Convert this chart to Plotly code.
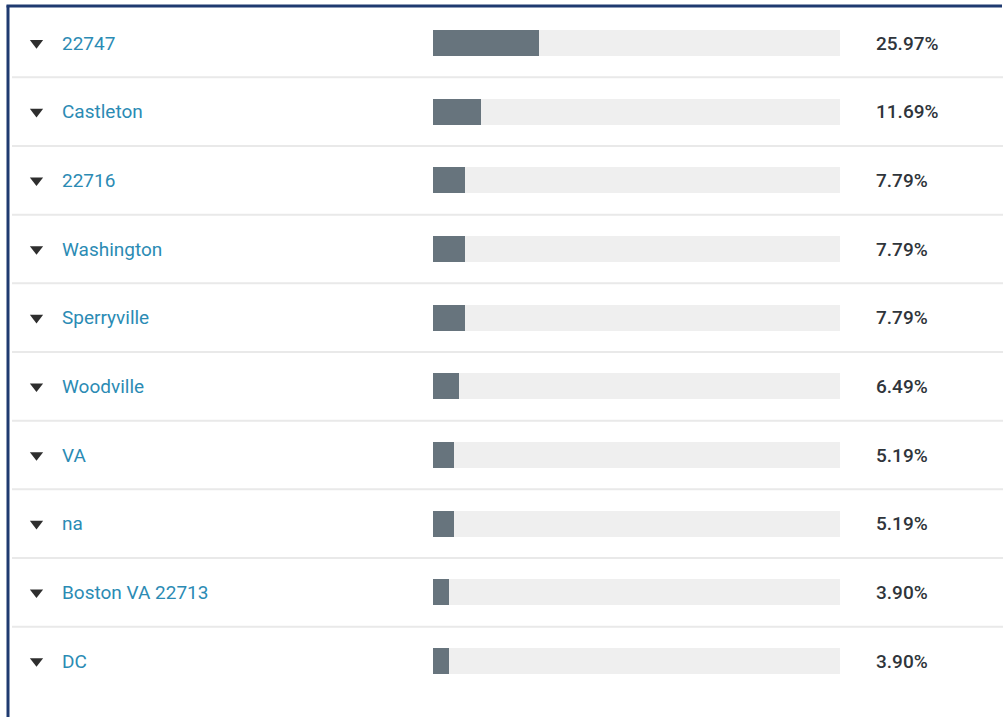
import plotly.graph_objects as go

# Response breakdown: answer text and share of respondents (%)
answers = ["22747", "Castleton", "22716", "Washington", "Sperryville",
           "Woodville", "VA", "na", "Boston VA 22713", "DC"]
shares = [25.97, 11.69, 7.79, 7.79, 7.79, 6.49, 5.19, 5.19, 3.90, 3.90]
full_scale = [100] * len(answers)

W, H = 1003, 717
rows = list(range(len(answers)))

label_color = "#2b8bb4"
value_color = "#2f353b"
fill_color = "#67747d"
track_color = "#efefef"
rule_color = "#e9e9e9"
frame_color = "#1f3a70"

fig = go.Figure()

# background track for each row
fig.add_trace(go.Bar(
    x=full_scale, y=rows, orientation="h", width=0.38,
    marker=dict(color=track_color, line=dict(width=0)),
    hoverinfo="skip", showlegend=False,
))
# filled portion = share
fig.add_trace(go.Bar(
    x=shares, y=rows, orientation="h", width=0.38,
    marker=dict(color=fill_color, line=dict(width=0)),
    hovertemplate="%{x:.2f}%<extra></extra>", showlegend=False,
))
# expand/collapse arrows in front of each answer (own full-width axis)
fig.add_trace(go.Scatter(
    x=[36.5] * len(answers), y=rows, mode="markers",
    xaxis="x2", yaxis="y",
    marker=dict(symbol="triangle-down", size=11.5, color="#2e2e2e",
                line=dict(width=0)),
    hoverinfo="skip", showlegend=False,
))

annotations = []
for i, (a, s) in enumerate(zip(answers, shares)):
    annotations.append(dict(
        x=59.5 / W, xref="paper", y=i, yref="y", text=a,
        xanchor="left", yanchor="middle", showarrow=False,
        font=dict(family="Roboto", size=19, color=label_color),
    ))
    annotations.append(dict(
        x=874 / W, xref="paper", y=i, yref="y", text=f"{s:.2f}%",
        xanchor="left", yanchor="middle", showarrow=False,
        font=dict(family="Roboto", size=19, color=value_color, weight=500),
    ))

shapes = []
# thin rules between rows
for i in rows[:-1]:
    shapes.append(dict(
        type="line", xref="paper", yref="y",
        x0=12 / W, x1=1.0, y0=i + 0.5, y1=i + 0.5,
        line=dict(color=rule_color, width=2), layer="below",
    ))
# frame on the left and top edges
shapes.append(dict(type="line", xref="paper", yref="paper",
                   x0=8 / W, x1=8 / W, y0=0, y1=1 - 5.5 / H,
                   line=dict(color=frame_color, width=3)))
shapes.append(dict(type="line", xref="paper", yref="paper",
                   x0=6.5 / W, x1=1002 / W, y0=1 - 6 / H, y1=1 - 6 / H,
                   line=dict(color=frame_color, width=3)))

row_pitch = 68.67
first_row = 43.0
y_top = -first_row / row_pitch
y_bot = (H - first_row) / row_pitch

fig.update_layout(
    width=W, height=H,
    margin=dict(l=0, r=0, t=0, b=0),
    paper_bgcolor="white", plot_bgcolor="rgba(0,0,0,0)",
    barmode="overlay", bargap=0,
    xaxis=dict(domain=[433 / W, 840 / W], range=[0, 100],
               visible=False, fixedrange=True),
    xaxis2=dict(domain=[0, 1], range=[0, W], anchor="y",
                visible=False, fixedrange=True),
    yaxis=dict(range=[y_bot, y_top], visible=False, fixedrange=True),
    annotations=annotations,
    shapes=shapes,
)

fig.write_html("out.html")
